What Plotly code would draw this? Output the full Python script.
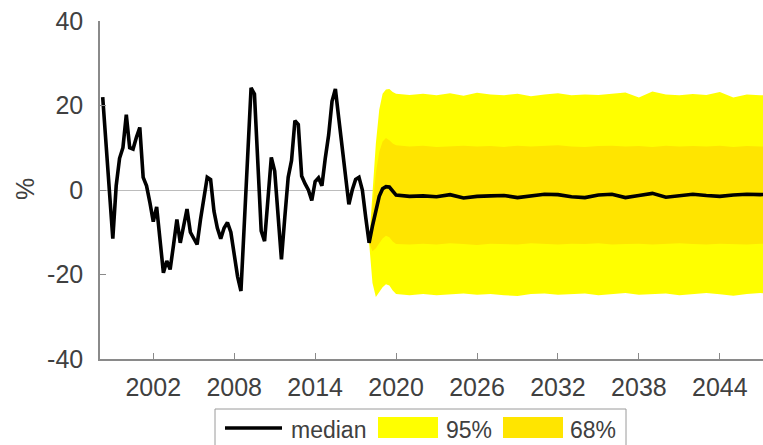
import plotly.graph_objects as go

# ---- historical series (quarterly, % change) ----
hist_years = [
    1998.25, 1998.50, 1998.75, 1999.00, 1999.25, 1999.50, 1999.75, 2000.00,
    2000.25, 2000.50, 2000.75, 2001.00, 2001.25, 2001.50, 2001.75, 2002.00,
    2002.25, 2002.50, 2002.75, 2003.00, 2003.25, 2003.50, 2003.75, 2004.00,
    2004.25, 2004.50, 2004.75, 2005.00, 2005.25, 2005.50, 2005.75, 2006.00,
    2006.25, 2006.50, 2006.75, 2007.00, 2007.25, 2007.50, 2007.75, 2008.00,
    2008.25, 2008.50, 2008.75, 2009.00, 2009.25, 2009.50, 2009.75, 2010.00,
    2010.25, 2010.50, 2010.75, 2011.00, 2011.25, 2011.50, 2011.75, 2012.00,
    2012.25, 2012.50, 2012.75, 2013.00, 2013.25, 2013.50, 2013.75, 2014.00,
    2014.25, 2014.50, 2014.75, 2015.00, 2015.25, 2015.50, 2015.75, 2016.00,
    2016.25, 2016.50, 2016.75, 2017.00, 2017.25, 2017.50, 2017.75, 2018.00,
]
hist_values = [
    22.0, 10.5, -1.0, -11.5, 1.0, 7.5, 10.0, 17.8,
    10.0, 9.7, 12.5, 14.8, 3.0, 1.0, -3.0, -7.5,
    -4.0, -12.0, -19.6, -16.8, -18.8, -13.0, -7.0, -12.5,
    -8.0, -4.5, -10.0, -11.5, -12.9, -7.0, -1.5, 3.0,
    2.5, -5.0, -9.0, -11.5, -9.0, -7.7, -10.0, -15.5,
    -20.5, -23.9, -8.0, 8.0, 24.2, 22.7, 6.5, -9.7,
    -12.1, -2.0, 7.7, 4.5, -6.0, -16.4, -6.5, 3.0,
    7.0, 16.4, 15.5, 3.3, 1.5, 0.0, -2.5, 2.0,
    2.9, 1.0, 7.5, 13.0, 21.0, 23.9, 17.0, 10.0,
    3.0, -3.4, 0.0, 2.5, 3.0, 0.0, -6.5, -12.5,
]

# ---- forecast: median and probability bands ----
fc_years = [
    2018.00, 2018.25, 2018.50, 2018.75, 2019.00, 2019.25, 2019.50, 2019.75,
    2020.00, 2021, 2022, 2023, 2024, 2025, 2026, 2027, 2028, 2029, 2030,
    2031, 2032, 2033, 2034, 2035, 2036, 2037, 2038, 2039, 2040, 2041,
    2042, 2043, 2044, 2045, 2046, 2047, 2048,
]
fc_median = [
    -12.5, -8.5, -4.5, -1.5, 0.3, 0.8, 0.7, -0.3,
    -1.2, -1.5, -1.4, -1.6, -1.1, -1.9, -1.5, -1.4, -1.3, -1.8, -1.5,
    -1.0, -1.1, -1.6, -1.8, -1.2, -1.0, -1.8, -1.3, -0.8, -1.7, -1.4,
    -1.0, -1.3, -1.5, -1.2, -1.0, -1.1, -1.0,
]
upper95 = [
    -12.5, 0.0, 11.0, 19.0, 22.8, 23.8, 23.9, 23.2,
    22.8, 22.5, 22.8, 22.4, 22.9, 22.3, 23.0, 22.6, 22.4, 22.8, 22.2,
    22.6, 22.9, 22.4, 22.6, 22.5, 22.8, 23.1, 21.9, 23.3, 22.6, 22.4,
    22.7, 22.5, 23.2, 21.9, 22.6, 22.4, 22.5,
]
lower95 = [
    -12.5, -22.0, -25.3, -24.2, -23.0, -22.3, -22.6, -23.8,
    -24.6, -24.9, -24.6, -24.9, -24.7, -24.5, -24.8, -24.6, -24.9, -25.1, -24.6,
    -24.5, -24.8, -24.6, -24.5, -24.9, -24.6, -24.4, -24.8, -24.7, -24.5, -24.9,
    -24.6, -24.4, -24.7, -25.0, -24.6, -24.4, -24.6,
]
upper68 = [
    -12.5, -5.0, 4.0, 9.0, 11.5, 12.3, 11.8, 11.0,
    10.6, 10.3, 10.5, 10.2, 10.4, 10.5, 10.3, 10.4, 10.2, 10.5, 10.3,
    10.4, 10.6, 10.3, 10.2, 10.4, 10.5, 10.3, 10.4, 10.2, 10.5, 10.3,
    10.4, 10.3, 10.5, 10.2, 10.4, 10.3, 10.4,
]
lower68 = [
    -12.5, -14.5, -13.8, -12.5, -11.5, -10.8, -11.2, -12.2,
    -12.8, -12.9, -12.7, -12.9, -12.6, -12.8, -13.0, -12.7, -12.8, -12.9, -12.6,
    -12.8, -12.9, -12.7, -12.8, -12.6, -12.9, -12.8, -12.7, -12.9, -12.8, -12.6,
    -12.8, -12.9, -12.7, -12.8, -12.9, -12.7, -12.8,
]

x_ticks = [2002, 2008, 2014, 2020, 2026, 2032, 2038, 2044]
y_ticks = [-40, -20, 0, 20, 40]
y_tick_labels = ["-40", "-20", "0", "20", "40"]

# ---- styling ----
C95 = "#FFFF00"
C68 = "#FFE500"
AXIS = "#8a8a8a"
TEXT = "#404040"
FONT = "Liberation Sans, Arial, sans-serif"
LINE_W = 3.6

W, H = 763, 445
L, R, T, B = 100, 763, 21, 359  # plot area in pixels


def px(x):
    return (x - L) / (R - L)


def py(y):
    return (B - y) / (B - T)


fig = go.Figure()
fig.add_trace(go.Scatter(x=fc_years, y=lower95, mode="lines", line=dict(width=0),
                         showlegend=False, hoverinfo="skip"))
fig.add_trace(go.Scatter(x=fc_years, y=upper95, mode="lines", line=dict(width=0),
                         fill="tonexty", fillcolor=C95, name="95%"))
fig.add_trace(go.Scatter(x=fc_years, y=lower68, mode="lines", line=dict(width=0),
                         showlegend=False, hoverinfo="skip"))
fig.add_trace(go.Scatter(x=fc_years, y=upper68, mode="lines", line=dict(width=0),
                         fill="tonexty", fillcolor=C68, name="68%"))
fig.add_trace(go.Scatter(x=hist_years + fc_years[1:], y=hist_values + fc_median[1:],
                         mode="lines", line=dict(color="black", width=LINE_W),
                         name="median"))

# hand-built legend below the axis
shapes = [
    dict(type="rect", xref="paper", yref="paper", x0=px(215), x1=px(626),
         y0=py(409), y1=py(475), line=dict(color="#9a9a9a", width=1),
         fillcolor="white", layer="below"),
    dict(type="line", xref="paper", yref="paper", x0=px(225), x1=px(282),
         y0=py(428), y1=py(428), line=dict(color="black", width=LINE_W)),
    dict(type="rect", xref="paper", yref="paper", x0=px(378), x1=px(438),
         y0=py(417), y1=py(438), line=dict(width=0), fillcolor=C95),
    dict(type="rect", xref="paper", yref="paper", x0=px(503), x1=px(563),
         y0=py(417), y1=py(438), line=dict(width=0), fillcolor=C68),
]
annotations = [
    dict(text="median", x=px(289), y=py(430)),
    dict(text="95%", x=px(444), y=py(430)),
    dict(text="68%", x=px(568), y=py(430)),
]
for a in annotations:
    a.update(xref="paper", yref="paper", xanchor="left", yanchor="middle",
             showarrow=False, font=dict(size=23, color=TEXT, family=FONT))
annotations.append(dict(text="%", xref="paper", yref="paper", x=px(25), y=py(189),
                        xanchor="center", yanchor="middle", textangle=-90,
                        showarrow=False, font=dict(size=25, color=TEXT, family=FONT)))

fig.update_layout(
    width=W, height=H, autosize=False,
    margin=dict(l=L, r=W - R, t=T, b=H - B, pad=0),
    paper_bgcolor="white", plot_bgcolor="white",
    showlegend=False,
    shapes=shapes, annotations=annotations,
    font=dict(family=FONT, color=TEXT, size=25),
    xaxis=dict(range=[1998.05, 2047.2], tickvals=x_ticks, ticktext=[str(t) for t in x_ticks],
               showgrid=False, zeroline=False, showline=True, linecolor=AXIS, linewidth=1.5,
               ticks="inside", ticklen=6, tickcolor=AXIS, tickwidth=1,
               ticklabelstandoff=5,
               tickfont=dict(size=25, color=TEXT, family=FONT)),
    yaxis=dict(range=[-40, 40], tickvals=y_ticks, ticktext=y_tick_labels, showgrid=False,
               zeroline=True, zerolinecolor="#bcbcbc", zerolinewidth=1.2,
               showline=True, linecolor=AXIS, linewidth=1.5,
               ticks="inside", ticklen=6, tickcolor=AXIS, tickwidth=1,
               ticklabelstandoff=10,
               tickfont=dict(size=25, color=TEXT, family=FONT)),
)

fig.write_html("out.html")
